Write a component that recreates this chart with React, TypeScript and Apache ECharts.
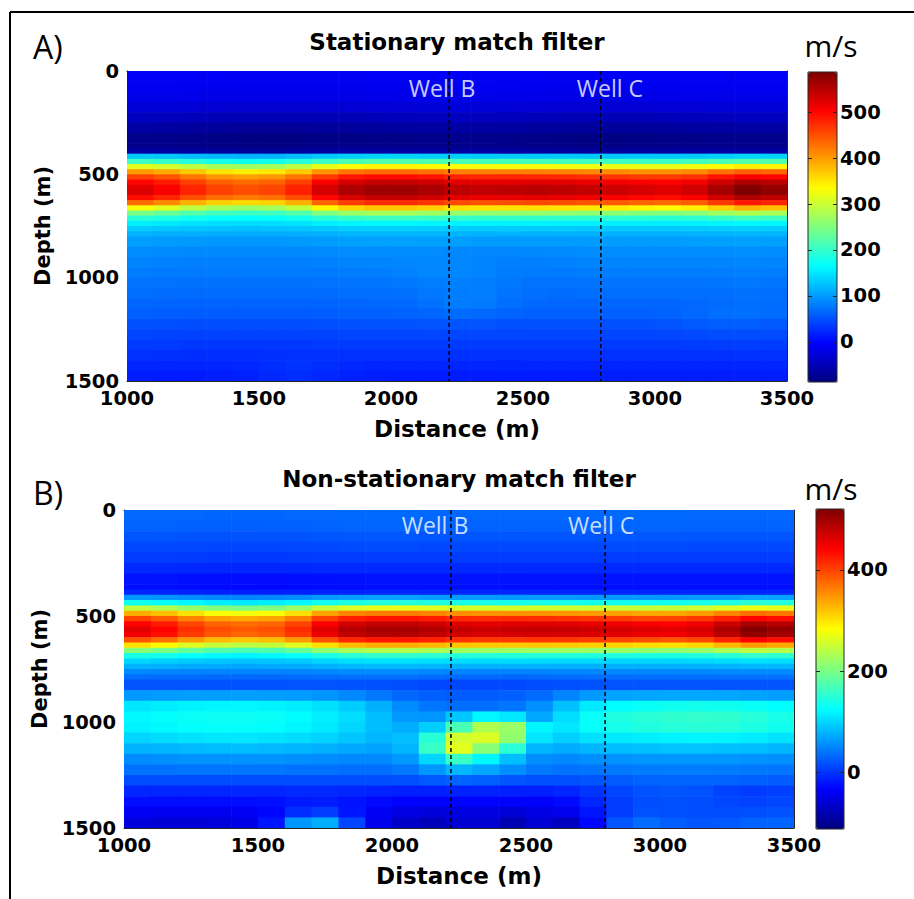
import React, { useEffect, useRef } from 'react';
import * as echarts from 'echarts';

// Cell edges (m): columns every 100 m, rows every 50 m with 25 m rows through the high-velocity layer
const distanceEdges = [1000, 1100, 1200, 1300, 1400, 1500, 1600, 1700, 1800, 1900, 2000, 2100, 2200, 2300, 2400, 2500, 2600, 2700, 2800, 2900, 3000, 3100, 3200, 3300, 3400, 3500];
const depthEdges = [0, 50, 100, 150, 200, 250, 300, 350, 375, 400, 425, 450, 475, 500, 525, 550, 575, 600, 625, 650, 675, 700, 725, 750, 775, 800, 850, 900, 950, 1000, 1050, 1100, 1150, 1200, 1250, 1300, 1350, 1400, 1450, 1500];

const wellNames = ['Well B', 'Well C'];
const wellDistance = [2220, 2795];

const colorbarTicksA = [0, 100, 200, 300, 400, 500];
const colorbarTicksB = [0, 200, 400];
const colorRangeA = [-87, 587];
const colorRangeB = [-112, 520];

// A) Stationary match filter, velocity (m/s): one row per depth cell, one column per distance cell
const velocityA: number[][] = [
  [-8, -8, -9, -9, -10, -10, -10, -10, -10, -9, -9, -8, -8, -8, -9, -9, -10, -10, -10, -9, -9, -8, -8, -8, -8],
  [-11, -11, -12, -12, -13, -13, -13, -13, -13, -12, -12, -11, -11, -11, -12, -12, -13, -13, -13, -12, -12, -11, -11, -11, -11],
  [-17, -17, -18, -19, -20, -20, -20, -20, -19, -18, -18, -17, -17, -17, -18, -18, -19, -20, -20, -19, -18, -17, -17, -17, -17],
  [-28, -28, -30, -32, -33, -33, -33, -32, -31, -30, -29, -28, -28, -28, -29, -30, -31, -32, -32, -31, -30, -29, -28, -28, -28],
  [-45, -46, -48, -50, -52, -52, -52, -51, -50, -48, -47, -46, -46, -46, -47, -48, -50, -51, -51, -50, -48, -47, -46, -45, -45],
  [-63, -64, -66, -68, -70, -70, -70, -69, -68, -66, -65, -64, -64, -64, -65, -66, -68, -69, -69, -68, -66, -65, -64, -63, -63],
  [-78, -78, -80, -82, -84, -84, -84, -83, -82, -80, -79, -78, -78, -78, -79, -80, -82, -83, -83, -82, -80, -79, -78, -78, -78],
  [-80, -80, -82, -84, -86, -86, -84, -82, -80, -80, -80, -80, -80, -80, -80, -81, -82, -83, -83, -82, -81, -80, -80, -80, -80],
  [-62, -62, -64, -66, -68, -68, -66, -64, -62, -62, -62, -62, -62, -62, -62, -63, -64, -65, -65, -64, -63, -62, -62, -62, -62],
  [130, 128, 122, 118, 115, 116, 122, 130, 135, 138, 138, 136, 134, 132, 132, 132, 132, 130, 130, 130, 130, 132, 136, 140, 138],
  [205, 200, 190, 180, 176, 178, 190, 205, 215, 220, 220, 218, 214, 212, 212, 212, 210, 208, 208, 206, 206, 210, 216, 222, 220],
  [315, 305, 290, 275, 270, 274, 290, 318, 332, 340, 340, 336, 330, 328, 328, 328, 326, 324, 322, 320, 320, 325, 335, 345, 340],
  [400, 390, 370, 352, 345, 350, 370, 405, 425, 432, 432, 428, 420, 418, 418, 418, 416, 414, 410, 406, 406, 412, 428, 440, 435],
  [460, 448, 425, 405, 398, 404, 425, 465, 488, 495, 495, 490, 480, 478, 478, 478, 476, 472, 468, 464, 464, 470, 490, 505, 500],
  [500, 485, 460, 440, 432, 438, 460, 505, 530, 540, 540, 535, 522, 520, 520, 522, 520, 515, 510, 505, 502, 510, 535, 555, 548],
  [522, 505, 478, 458, 450, 456, 480, 528, 555, 565, 565, 558, 545, 542, 545, 548, 545, 540, 535, 528, 522, 532, 560, 585, 572],
  [525, 508, 480, 460, 452, 458, 482, 530, 557, 567, 567, 560, 548, 545, 547, 550, 547, 542, 537, 530, 524, 534, 562, 587, 575],
  [495, 478, 450, 430, 422, 428, 452, 500, 528, 540, 540, 533, 520, 516, 517, 520, 517, 512, 507, 500, 495, 505, 532, 555, 545],
  [430, 412, 385, 365, 358, 364, 386, 435, 462, 475, 475, 468, 455, 450, 452, 454, 452, 448, 443, 436, 432, 440, 465, 488, 478],
  [330, 315, 292, 275, 268, 274, 294, 338, 362, 372, 372, 366, 356, 352, 353, 355, 353, 350, 346, 340, 337, 344, 365, 385, 375],
  [245, 235, 220, 208, 204, 207, 220, 250, 268, 275, 275, 270, 264, 262, 262, 263, 262, 260, 257, 254, 252, 256, 270, 282, 276],
  [190, 185, 177, 170, 168, 170, 177, 192, 202, 206, 206, 204, 200, 198, 198, 198, 197, 196, 195, 194, 193, 195, 202, 208, 205],
  [155, 152, 148, 145, 144, 145, 148, 155, 160, 162, 162, 160, 158, 157, 157, 157, 156, 156, 155, 155, 155, 156, 159, 162, 160],
  [132, 130, 128, 126, 125, 126, 128, 131, 134, 136, 136, 134, 133, 132, 132, 132, 132, 131, 131, 131, 131, 132, 134, 136, 134],
  [116, 114, 113, 112, 111, 112, 113, 115, 118, 119, 119, 118, 117, 116, 116, 116, 116, 115, 115, 115, 115, 116, 117, 119, 118],
  [102, 100, 99, 98, 98, 98, 99, 101, 103, 104, 104, 103, 102, 100, 100, 101, 101, 101, 101, 101, 101, 102, 103, 104, 103],
  [90, 89, 88, 88, 88, 88, 88, 89, 90, 91, 91, 90, 88, 86, 86, 88, 89, 90, 90, 90, 90, 90, 91, 92, 91],
  [84, 83, 82, 82, 82, 82, 82, 83, 84, 85, 86, 87, 86, 84, 82, 82, 83, 84, 84, 84, 84, 84, 85, 86, 85],
  [80, 79, 78, 78, 78, 78, 78, 79, 80, 81, 83, 86, 87, 84, 80, 78, 79, 80, 80, 80, 80, 80, 81, 82, 81],
  [74, 73, 72, 72, 72, 72, 72, 73, 74, 75, 77, 80, 82, 80, 76, 73, 73, 74, 74, 74, 74, 74, 75, 76, 75],
  [70, 69, 68, 68, 68, 68, 68, 69, 70, 71, 72, 76, 80, 80, 74, 70, 69, 70, 70, 70, 70, 70, 71, 72, 71],
  [65, 64, 63, 63, 63, 63, 63, 64, 65, 66, 67, 72, 80, 78, 70, 66, 65, 65, 65, 65, 65, 66, 68, 70, 68],
  [60, 59, 58, 58, 58, 58, 58, 59, 60, 61, 62, 64, 68, 66, 62, 60, 60, 60, 60, 60, 62, 66, 70, 70, 68],
  [50, 49, 48, 48, 48, 48, 48, 49, 50, 51, 51, 52, 53, 52, 50, 50, 50, 50, 50, 50, 52, 56, 59, 59, 57],
  [43, 42, 41, 41, 41, 41, 41, 42, 43, 43, 43, 43, 43, 43, 43, 43, 43, 43, 43, 43, 44, 46, 48, 48, 47],
  [36, 35, 34, 34, 34, 34, 34, 35, 36, 36, 36, 36, 36, 36, 36, 36, 36, 36, 36, 36, 36, 37, 38, 38, 37],
  [29, 28, 27, 27, 27, 28, 29, 29, 29, 29, 29, 29, 29, 29, 29, 29, 29, 29, 29, 29, 29, 29, 29, 29, 29],
  [22, 21, 21, 21, 23, 27, 31, 27, 23, 21, 21, 21, 21, 21, 21, 21, 21, 21, 21, 21, 21, 21, 21, 21, 21],
  [16, 15, 15, 16, 19, 24, 27, 23, 19, 16, 15, 15, 15, 15, 15, 15, 15, 15, 16, 16, 16, 16, 16, 16, 16],
];

// B) Non-stationary match filter, velocity (m/s)
const velocityB: number[][] = [
  [32, 32, 31, 30, 30, 30, 31, 32, 33, 33, 33, 32, 32, 32, 32, 32, 32, 32, 33, 33, 33, 32, 32, 32, 32],
  [28, 28, 27, 26, 26, 26, 27, 28, 29, 29, 29, 28, 28, 28, 28, 28, 28, 28, 29, 29, 29, 28, 28, 28, 28],
  [20, 20, 19, 18, 18, 18, 19, 20, 21, 21, 21, 20, 20, 20, 20, 20, 20, 20, 21, 21, 21, 20, 20, 20, 20],
  [12, 12, 11, 10, 10, 10, 11, 12, 13, 13, 13, 12, 12, 12, 12, 12, 12, 12, 13, 13, 13, 12, 12, 12, 12],
  [4, 4, 3, 2, 2, 2, 3, 4, 4, 4, 4, 4, 4, 4, 4, 4, 4, 4, 4, 4, 4, 4, 4, 4, 4],
  [-8, -8, -9, -10, -10, -10, -9, -8, -8, -8, -8, -8, -8, -8, -8, -8, -8, -8, -8, -8, -8, -8, -8, -8, -8],
  [-22, -22, -24, -25, -26, -26, -25, -24, -23, -22, -22, -22, -22, -22, -22, -22, -22, -22, -22, -22, -22, -22, -22, -22, -22],
  [-25, -25, -27, -28, -29, -29, -28, -27, -26, -25, -25, -25, -25, -25, -25, -25, -25, -25, -25, -25, -25, -25, -25, -25, -25],
  [-10, -10, -12, -13, -14, -14, -13, -12, -11, -10, -10, -10, -10, -10, -10, -10, -10, -10, -10, -10, -10, -10, -10, -10, -10],
  [62, 60, 56, 52, 50, 52, 56, 62, 66, 68, 68, 66, 64, 63, 63, 63, 63, 62, 62, 62, 62, 63, 66, 70, 68],
  [135, 130, 122, 115, 112, 115, 122, 135, 142, 146, 146, 144, 140, 138, 138, 138, 138, 136, 136, 135, 135, 138, 143, 150, 147],
  [245, 235, 218, 205, 200, 204, 220, 248, 262, 268, 268, 264, 258, 256, 256, 256, 254, 252, 250, 248, 248, 252, 262, 272, 268],
  [335, 322, 300, 282, 276, 282, 302, 340, 358, 365, 365, 360, 352, 350, 350, 350, 348, 345, 342, 338, 338, 344, 358, 372, 366],
  [400, 385, 360, 342, 335, 340, 362, 402, 422, 430, 430, 425, 416, 414, 414, 414, 412, 408, 404, 400, 400, 406, 422, 440, 434],
  [440, 424, 398, 380, 372, 378, 400, 444, 468, 477, 477, 470, 460, 457, 458, 460, 458, 454, 450, 445, 442, 450, 472, 494, 486],
  [458, 440, 412, 394, 386, 392, 414, 460, 487, 497, 497, 490, 478, 474, 476, 478, 476, 472, 468, 462, 458, 466, 492, 517, 507],
  [450, 432, 404, 386, 378, 384, 406, 452, 478, 488, 488, 481, 469, 465, 467, 469, 467, 463, 459, 453, 449, 457, 483, 508, 498],
  [390, 372, 345, 326, 318, 324, 346, 392, 418, 428, 428, 421, 410, 406, 407, 409, 407, 403, 399, 393, 389, 397, 420, 442, 433],
  [300, 285, 262, 246, 240, 245, 264, 302, 325, 333, 333, 327, 318, 315, 316, 317, 315, 312, 309, 304, 301, 307, 326, 344, 336],
  [210, 200, 186, 175, 170, 174, 187, 212, 228, 234, 234, 230, 224, 222, 222, 223, 222, 220, 218, 215, 213, 217, 229, 241, 236],
  [140, 135, 127, 121, 118, 121, 128, 141, 150, 154, 154, 152, 148, 147, 147, 147, 146, 145, 144, 143, 142, 144, 150, 156, 153],
  [100, 97, 93, 90, 88, 90, 93, 100, 105, 107, 107, 105, 103, 102, 102, 102, 101, 101, 100, 100, 100, 101, 104, 107, 105],
  [78, 76, 73, 71, 70, 71, 73, 77, 81, 82, 82, 80, 78, 77, 77, 77, 77, 77, 76, 76, 76, 77, 79, 81, 80],
  [52, 51, 50, 49, 49, 49, 50, 52, 54, 54, 54, 52, 50, 49, 49, 50, 51, 52, 52, 52, 52, 52, 53, 54, 53],
  [36, 35, 34, 33, 33, 33, 34, 36, 37, 37, 37, 35, 33, 32, 32, 33, 34, 35, 35, 36, 36, 36, 37, 38, 37],
  [20, 20, 19, 18, 18, 18, 19, 19, 18, 16, 14, 12, 11, 11, 12, 14, 16, 18, 19, 20, 20, 20, 20, 20, 20],
  [62, 64, 66, 66, 66, 66, 64, 60, 52, 42, 32, 26, 24, 24, 26, 34, 50, 62, 68, 70, 72, 72, 70, 68, 66],
  [110, 114, 118, 120, 120, 118, 114, 106, 94, 76, 54, 40, 36, 36, 40, 56, 86, 112, 124, 130, 134, 136, 134, 130, 124],
  [122, 126, 130, 132, 132, 130, 124, 116, 104, 84, 62, 60, 90, 120, 110, 72, 104, 130, 144, 150, 154, 156, 154, 148, 140],
  [118, 122, 126, 128, 128, 126, 120, 112, 100, 84, 75, 95, 170, 235, 220, 120, 110, 128, 138, 144, 148, 150, 148, 142, 134],
  [100, 104, 108, 110, 110, 108, 104, 98, 90, 80, 85, 150, 255, 260, 215, 110, 96, 106, 112, 116, 118, 120, 118, 114, 108],
  [78, 80, 82, 84, 84, 82, 80, 76, 72, 68, 80, 160, 265, 210, 150, 80, 74, 80, 84, 86, 88, 88, 86, 84, 80],
  [54, 56, 58, 58, 58, 58, 56, 54, 52, 52, 62, 100, 160, 120, 85, 55, 52, 56, 58, 60, 60, 60, 60, 58, 56],
  [38, 38, 40, 40, 40, 40, 38, 38, 36, 36, 42, 60, 80, 70, 55, 42, 38, 40, 42, 44, 44, 44, 44, 42, 40],
  [14, 14, 15, 15, 15, 15, 15, 14, 14, 14, 16, 22, 28, 26, 20, 16, 16, 20, 24, 28, 30, 30, 28, 26, 24],
  [-10, -10, -10, -10, -10, -10, -8, -8, -10, -12, -14, -14, -12, -12, -14, -14, -10, 0, 10, 18, 20, 18, 8, 4, 6],
  [-25, -26, -26, -26, -26, -24, -18, -16, -22, -28, -32, -34, -32, -32, -34, -34, -28, -10, 5, 14, 16, 14, 10, 8, 10],
  [-40, -42, -42, -42, -40, -30, -5, 5, -20, -40, -50, -55, -52, -52, -58, -50, -45, -20, 5, 18, 16, 14, 14, 16, 18],
  [-55, -58, -58, -56, -48, -20, 60, 75, 10, -45, -65, -75, -62, -60, -80, -60, -72, -30, 20, 35, 25, 20, 22, 28, 30],
];

const jet = ['#00007F', '#0000FF', '#007FFF', '#00FFFF', '#7FFF7F', '#FFFF00', '#FF7F00', '#FF0000', '#7F0000'];

// [x0, x1, y0, y1, value] per cell
const toCells = (grid: number[][]) => {
  const out: number[][] = [];
  grid.forEach((row, r) =>
    row.forEach((v, c) => out.push([distanceEdges[c], distanceEdges[c + 1], depthEdges[r], depthEdges[r + 1], v]))
  );
  return out;
};

const renderCell = (_params: any, api: any) => {
  const a = api.coord([api.value(0), api.value(2)]);
  const b = api.coord([api.value(1), api.value(3)]);
  return {
    type: 'rect',
    shape: {
      x: Math.min(a[0], b[0]),
      y: Math.min(a[1], b[1]),
      width: Math.abs(b[0] - a[0]) + 0.6,
      height: Math.abs(b[1] - a[1]) + 0.6,
    },
    style: { fill: api.visual('color') },
  };
};

const plain = (v: number) => String(v);
const boldFont = { fontFamily: 'DejaVu Sans', fontWeight: 'bold' as const, color: '#000' };
const tickLabel = { ...boldFont, fontSize: 19.5, lineHeight: 14, formatter: plain };
const frameColor = '#262626';

function panelAxes(g: number, nameGapY: number) {
  const common = {
    axisLine: { show: true, onZero: false, lineStyle: { color: frameColor, width: 1 } },
    axisTick: { show: true, inside: true, length: 5, lineStyle: { color: frameColor } },
    splitLine: { show: false },
  };
  const xs = [
    {
      gridIndex: g, type: 'value', min: 1000, max: 3500, interval: 500, position: 'bottom', ...common,
      axisLabel: { ...tickLabel, margin: 10 },
      name: 'Distance (m)', nameLocation: 'middle', nameGap: 36,
      nameTextStyle: { ...boldFont, fontSize: 23 },
    },
    { gridIndex: g, type: 'value', min: 1000, max: 3500, interval: 500, position: 'top', ...common, axisLabel: { show: false } },
  ];
  const ys = [
    {
      gridIndex: g, type: 'value', min: 0, max: 1500, interval: 500, inverse: true, position: 'left', ...common,
      axisLabel: { ...tickLabel, margin: 8 },
      name: 'Depth (m)', nameLocation: 'middle', nameGap: nameGapY,
      nameTextStyle: { ...boldFont, fontSize: 21 },
    },
    { gridIndex: g, type: 'value', min: 0, max: 1500, interval: 500, inverse: true, position: 'right', ...common, axisLabel: { show: false } },
  ];
  return { xs, ys };
}

function colorbarAxes(g: number, range: number[], ticks: number[]) {
  const x = { gridIndex: g, type: 'value', show: false };
  const tick = { show: true, inside: true, length: 4, customValues: ticks, lineStyle: { color: frameColor } };
  const ys = [
    {
      gridIndex: g, type: 'value', min: range[0], max: range[1], position: 'left', z: 11,
      axisLine: { show: false }, axisTick: tick, axisLabel: { show: false }, splitLine: { show: false },
    },
    {
      gridIndex: g, type: 'value', min: range[0], max: range[1], position: 'right', z: 11,
      axisLine: { show: false }, axisTick: tick,
      axisLabel: { ...tickLabel, margin: 3, customValues: ticks },
      splitLine: { show: false },
    },
  ];
  return { x, ys };
}

function wellSeries(xIdx: number, yIdx: number, labelDepth: number, offsets: number[]) {
  const lines = wellDistance.map((d) => ({
    type: 'line', xAxisIndex: xIdx, yAxisIndex: yIdx, data: [[d, 0], [d, 1500]],
    symbol: 'none', silent: true, z: 5,
    lineStyle: { color: '#000', width: 1.5, type: [4, 3] },
  }));
  const labels = {
    type: 'scatter', xAxisIndex: xIdx, yAxisIndex: yIdx, symbolSize: 0, silent: true, z: 6,
    data: wellNames.map((n, i) => ({
      value: [wellDistance[i], labelDepth], name: n,
      label: { offset: [offsets[i], 0] },
    })),
    label: {
      show: true, position: 'inside', formatter: '{b}', color: '#fff',
      fontFamily: 'Open Sans', fontSize: 23, fontWeight: 'normal',
    },
  };
  return [...lines, labels];
}

export default function App() {
  const ref = useRef<HTMLDivElement>(null);
  useEffect(() => {
    if (!ref.current) return;
    const chart = echarts.init(ref.current, null, { renderer: 'svg' });
    const pA = panelAxes(0, 72);
    const pB = panelAxes(1, 69);
    const cA = colorbarAxes(2, colorRangeA, colorbarTicksA);
    const cB = colorbarAxes(3, colorRangeB, colorbarTicksB);
    const cellSeries = (xIdx: number, yIdx: number, grid: number[][]) => ({
      type: 'custom', xAxisIndex: xIdx, yAxisIndex: yIdx, data: toCells(grid), silent: true, clip: true,
      encode: { x: [0, 1], y: [2, 3] }, renderItem: renderCell,
    });
    const option: any = {
      animation: false,
      backgroundColor: '#fff',
      textStyle: { fontFamily: 'DejaVu Sans' },
      title: [
        { text: 'Stationary match filter', left: 457, top: 41.5, textAlign: 'center', textVerticalAlign: 'middle', padding: 0, textStyle: { ...boldFont, fontSize: 23 } },
        { text: 'Non-stationary match filter', left: 459, top: 479, textAlign: 'center', textVerticalAlign: 'middle', padding: 0, textStyle: { ...boldFont, fontSize: 23 } },
      ],
      grid: [
        { left: 127, top: 71, width: 660, height: 310 },
        { left: 124, top: 510, width: 670, height: 318 },
        { left: 808, top: 72, width: 29, height: 310, show: true, borderColor: frameColor, borderWidth: 1, backgroundColor: 'transparent', z: 10 },
        { left: 816, top: 509, width: 28, height: 320, show: true, borderColor: frameColor, borderWidth: 1, backgroundColor: 'transparent', z: 10 },
      ],
      xAxis: [...pA.xs, ...pB.xs, cA.x, cB.x],
      yAxis: [...pA.ys, ...pB.ys, ...cA.ys, ...cB.ys],
      visualMap: [
        {
          type: 'continuous', seriesIndex: 0, dimension: 4, min: colorRangeA[0], max: colorRangeA[1],
          inRange: { color: jet }, calculable: false, orient: 'vertical', left: 808, top: 72,
          itemWidth: 29, itemHeight: 310, padding: 0, text: null, hoverLink: false,
        },
        {
          type: 'continuous', seriesIndex: 1, dimension: 4, min: colorRangeB[0], max: colorRangeB[1],
          inRange: { color: jet }, calculable: false, orient: 'vertical', left: 816, top: 509,
          itemWidth: 28, itemHeight: 320, padding: 0, text: null, hoverLink: false,
        },
      ],
      series: [
        cellSeries(0, 0, velocityA),
        cellSeries(2, 2, velocityB),
        ...wellSeries(0, 0, 84, [-7, 9]),
        ...wellSeries(2, 2, 71, [-16, -4]),
      ],
      graphic: [
        { type: 'line', shape: { x1: 10, y1: 12, x2: 914, y2: 12 }, style: { stroke: '#000', lineWidth: 2 } },
        { type: 'line', shape: { x1: 10, y1: 12, x2: 10, y2: 899 }, style: { stroke: '#000', lineWidth: 2 } },
        { type: 'text', x: 33, y: 46.5, style: { text: 'A)', font: 'normal 32px "Open Sans"', fill: '#000', textAlign: 'left', textVerticalAlign: 'middle' } },
        { type: 'text', x: 33, y: 492, style: { text: 'B)', font: 'normal 32px "Open Sans"', fill: '#000', textAlign: 'left', textVerticalAlign: 'middle' } },
        { type: 'text', x: 831, y: 45, style: { text: 'm/s', font: 'normal 30px "Open Sans"', fill: '#000', textAlign: 'center', textVerticalAlign: 'middle' } },
        { type: 'text', x: 831, y: 488, style: { text: 'm/s', font: 'normal 30px "Open Sans"', fill: '#000', textAlign: 'center', textVerticalAlign: 'middle' } },
      ],
    };
    chart.setOption(option);
    return () => chart.dispose();
  }, []);
  return <div ref={ref} style={{ position: 'fixed', left: 0, top: 0, width: 914, height: 899, background: '#fff' }} />;
}
